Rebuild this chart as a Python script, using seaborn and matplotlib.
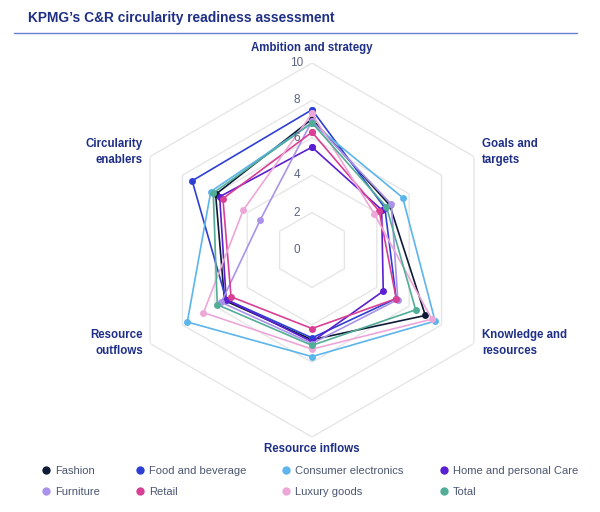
import numpy as np
import pandas as pd
import matplotlib.pyplot as plt
import seaborn as sns
from matplotlib.lines import Line2D

# dimensions, clockwise from the top
dimensions = ['Ambition and strategy', 'Goals and targets', 'Knowledge and resources',
              'Resource inflows', 'Resource outflows', 'Circularity enablers']

fashion = [7.0, 4.8, 7.0, 4.8, 5.4, 5.95]
food_and_beverage = [7.5, 4.5, 5.2, 4.7, 5.3, 7.4]
consumer_electronics = [6.8, 5.6, 7.6, 5.7, 7.7, 6.25]
home_and_personal_care = [5.5, 4.3, 4.4, 4.9, 5.3, 5.7]
furniture = [6.9, 4.9, 5.3, 5.0, 5.6, 3.2]
retail = [6.3, 4.15, 5.2, 4.2, 5.0, 5.5]
luxury_goods = [7.3, 3.85, 7.4, 5.3, 6.7, 4.25]
total = [6.8, 4.6, 6.4, 5.1, 5.85, 6.1]

series_names = ['Fashion', 'Food and beverage', 'Consumer electronics', 'Home and personal Care',
                'Furniture', 'Retail', 'Luxury goods', 'Total']
series_values = [fashion, food_and_beverage, consumer_electronics, home_and_personal_care,
                 furniture, retail, luxury_goods, total]
series_colors = ['#0f1a36', '#2e3fd4', '#5cb5eb', '#5a1fd0',
                 '#a993ea', '#d83f95', '#eda6d8', '#52ad98']

ring_values = [2, 4, 6, 8, 10]
tick_labels = ['0', '2', '4', '6', '8', '10']

W, H = 600, 512
NAVY = '#1f2f86'

sns.set_theme(style='white')
plt.rcParams['font.family'] = ['Liberation Sans', 'DejaVu Sans']

fig = plt.figure(figsize=(6, 5.12), dpi=100)
ax = fig.add_axes([125 / W, 75 / H, 374 / W, 374 / H], projection='polar')
ax.set_theta_offset(np.pi / 2)
ax.set_theta_direction(-1)
ax.spines['polar'].set_visible(False)
ax.grid(False)
ax.set_facecolor('none')

angles = np.linspace(0, 2 * np.pi, len(dimensions), endpoint=False)
closed = np.append(angles, 2 * np.pi)

# hexagonal grid
for r in ring_values:
    ax.plot(closed, [r] * len(closed), color='#e6e6e6', lw=1.0, zorder=1)

for name, vals, color in zip(series_names, series_values, series_colors):
    df = pd.DataFrame({'theta': closed, 'score': vals + vals[:1]})
    sns.lineplot(data=df, x='theta', y='score', sort=False, estimator=None,
                 color=color, marker='o', markersize=5, markeredgewidth=0,
                 lw=1.2, ax=ax, zorder=3)

ax.set_ylim(0, 10)
ax.set_xticks([])
ax.set_yticks([])
ax.set_xlabel('')
ax.set_ylabel('')

# radial tick labels, just left of the top axis
for lab in tick_labels:
    ax.annotate(lab, xy=(0, float(lab)), xytext=(-11, 0), textcoords='offset points',
                ha='center', va='center', fontsize=8.5, color='#5b6384', zorder=4)

# axis titles
label_style = dict(fontsize=8.3, fontweight='bold', color=NAVY, linespacing=1.55)
fig.text(312 / W, 1 - 48 / H, 'Ambition and strategy', ha='center', va='center', **label_style)
fig.text(482 / W, 1 - 152 / H, 'Goals and\ntargets', ha='left', va='center', **label_style)
fig.text(482 / W, 1 - 343 / H, 'Knowledge and\nresources', ha='left', va='center', **label_style)
fig.text(312 / W, 1 - 449 / H, 'Resource inflows', ha='center', va='center', **label_style)
fig.text(143 / W, 1 - 343 / H, 'Resource\noutflows', ha='right', va='center', **label_style)
fig.text(143 / W, 1 - 152 / H, 'Circularity\nenablers', ha='right', va='center', **label_style)

# title and rule
fig.text(28 / W, 1 - 18 / H, 'KPMG\u2019s C&R circularity readiness assessment',
         fontsize=9.9, fontweight='bold', color=NAVY, va='center')
fig.add_artist(Line2D([14 / W, 577 / W], [1 - 33 / H, 1 - 33 / H],
                      color='#6b7fd0', lw=1, transform=fig.transFigure))

# legend: 2 rows x 4 columns, filled column-wise
order = [0, 4, 1, 5, 2, 6, 3, 7]
handles = [Line2D([], [], marker='o', ls='', color=series_colors[i], markersize=6,
                  markeredgewidth=0) for i in order]
labels = [series_names[i] for i in order]
fig.legend(handles, labels, loc='upper left', bbox_to_anchor=(43 / W, 1 - 466 / H),
           ncol=4, frameon=False, fontsize=8, handlelength=0.6, handletextpad=0.5,
           columnspacing=3.3, labelspacing=1.0, borderaxespad=0, borderpad=0,
           labelcolor='#4a5570')

fig.savefig('out.png', dpi=100)
